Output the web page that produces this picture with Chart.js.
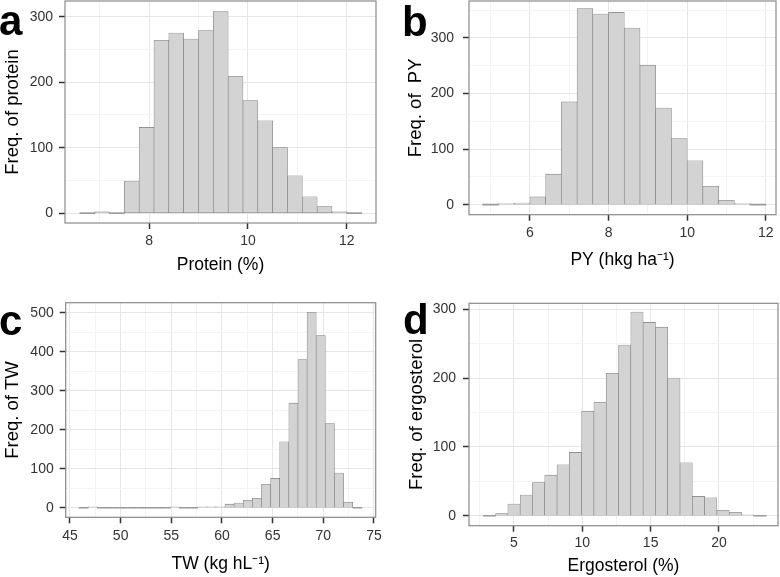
<!DOCTYPE html>
<html>
<head>
<meta charset="utf-8">
<script src="https://cdn.jsdelivr.net/npm/chart.js@4.4.1/dist/chart.umd.min.js"></script>
<style>
  body { margin: 0; background: #fff; }
  #wrap { position: relative; width: 780px; height: 577px; overflow: hidden; font-family: 'Liberation Sans', Arial, sans-serif; }
  #wrap canvas { position: absolute; }
  .tag { position: absolute; font-weight: bold; font-size: 42px; line-height: 1; color: #000; }
</style>
</head>
<body>
<div id="wrap">
  <canvas id="panelA" width="390" height="280" style="left:0;top:0"></canvas>
  <canvas id="panelB" width="390" height="280" style="left:390px;top:0"></canvas>
  <canvas id="panelC" width="390" height="297" style="left:0;top:280px"></canvas>
  <canvas id="panelD" width="390" height="297" style="left:390px;top:280px"></canvas>
  <div class="tag" style="left:-1px;top:0">a</div>
  <div class="tag" style="left:402px;top:1px">b</div>
  <div class="tag" style="left:-1px;top:300px">c</div>
  <div class="tag" style="left:403px;top:299px">d</div>
</div>
<script>
// bin centres and counts
const proteinBins = [6.75, 7.05, 7.35, 7.65, 7.95, 8.25, 8.55, 8.85, 9.15, 9.45, 9.75, 10.05, 10.35, 10.65, 10.95, 11.25, 11.55, 11.85, 12.15];
const proteinFreq = [0, 2, 0, 49, 131, 264, 275, 266, 279, 308, 209, 172, 141, 100, 57, 25, 10, 2, 0];
const proteinTicksX = [8, 10, 12];
const proteinMinorX = [7, 9, 11];
const proteinTicksY = [0, 100, 200, 300];
const proteinMinorY = [50, 150, 250];

const pyBins = [5.0, 5.4, 5.8, 6.2, 6.6, 7.0, 7.4, 7.8, 8.2, 8.6, 9.0, 9.4, 9.8, 10.2, 10.6, 11.0, 11.4, 11.8];
const pyFreq = [0, 1, 3, 14, 55, 185, 353, 343, 346, 318, 251, 174, 119, 79, 33, 8, 1, 0];
const pyTicksX = [6, 8, 10, 12];
const pyMinorX = [5, 7, 9, 11];
const pyTicksY = [0, 100, 200, 300];
const pyMinorY = [50, 150, 250, 350];

const twBins = [46.35, 47.25, 48.15, 49.05, 49.95, 50.85, 51.75, 52.65, 53.55, 54.45, 55.35, 56.25, 57.15, 58.05, 58.95, 59.85,
  60.75, 61.65, 62.55, 63.45, 64.35, 65.25, 66.15, 67.05, 67.95, 68.85, 69.75, 70.65, 71.55, 72.45, 73.35];
const twFreq = [0, 1, 0, 0, 0, 0, 0, 0, 0, 0, 1, 0, 0, 1, 1, 1,
  9, 12, 19, 24, 60, 75, 169, 268, 380, 501, 441, 216, 89, 14, 0];
const twTicksX = [45, 50, 55, 60, 65, 70, 75];
const twMinorX = [47.5, 52.5, 57.5, 62.5, 67.5, 72.5];
const twTicksY = [0, 100, 200, 300, 400, 500];
const twMinorY = [50, 150, 250, 350, 450];

const ergoBins = [3.2, 4.1, 5.0, 5.9, 6.8, 7.7, 8.6, 9.5, 10.4, 11.3, 12.2, 13.1, 14.0, 14.9, 15.8, 16.7, 17.6, 18.5, 19.4, 20.3, 21.2, 22.1, 23.0];
const ergoFreq = [0, 3, 17, 30, 48, 59, 74, 92, 152, 165, 207, 248, 296, 281, 274, 200, 77, 28, 26, 8, 5, 1, 0];
const ergoTicksX = [5, 10, 15, 20];
const ergoMinorX = [2.5, 7.5, 12.5, 17.5, 22.5];
const ergoTicksY = [0, 100, 200, 300];
const ergoMinorY = [50, 150, 250];

const fontFamily = "'Liberation Sans', Arial, sans-serif";

// grey frame round the plotting area (ggplot theme_bw)
const panelBorder = {
  id: 'panelBorder',
  afterDatasetsDraw(chart) {
    const { ctx, chartArea: a } = chart;
    ctx.save();
    ctx.strokeStyle = '#8a8a8a';
    ctx.lineWidth = 1.2;
    ctx.strokeRect(a.left, a.top, a.right - a.left, a.bottom - a.top);
    ctx.restore();
  }
};

function histogram(id, s) {
  const canvas = document.getElementById(id);
  const W = canvas.width, H = canvas.height;
  const area = s.area;
  const ticksX = s.ticksX.concat(s.minorX).sort((p, q) => p - q);
  const ticksY = s.ticksY.concat(s.minorY).sort((p, q) => p - q);

  const gridColor = majors => ctx => majors.includes(ctx.tick.value) ? '#e6e6e6' : '#f4f4f4';
  const tickColor = majors => ctx => majors.includes(ctx.tick.value) ? '#333' : 'rgba(0,0,0,0)';

  return new Chart(canvas, {
    type: 'bar',
    data: {
      datasets: [{
        data: s.bins.map((b, i) => ({ x: b, y: s.freq[i] })),
        // empty bins show up as a thin grey line on the baseline
        backgroundColor: ctx => ctx.raw && ctx.raw.y === 0 ? '#9a9a9a' : '#d3d3d3',
        borderColor: '#7d7d7d',
        borderWidth: ctx => ctx.raw && ctx.raw.y === 0 ? 0 : 0.6,
        borderSkipped: false,
        minBarLength: 1,
        barPercentage: 1,
        categoryPercentage: 1
      }]
    },
    options: {
      responsive: false,
      animation: false,
      layout: { padding: { left: 0, top: area.top, right: W - area.right, bottom: 0 } },
      plugins: { legend: { display: false }, tooltip: { enabled: false } },
      scales: {
        x: {
          type: 'linear',
          min: s.rangeX[0],
          max: s.rangeX[1],
          offset: false,
          border: { display: false },
          grid: { offset: false, color: gridColor(s.ticksX), tickColor: tickColor(s.ticksX), tickLength: 6, tickWidth: 1.5 },
          ticks: {
            autoSkip: false, maxRotation: 0, padding: s.padX, color: '#333',
            font: { family: fontFamily, size: 14 },
            callback: v => s.ticksX.includes(v) ? String(v) : ''
          },
          title: { display: true, text: s.titleX, color: '#000', font: { family: fontFamily, size: 17.5 }, padding: { top: 0, bottom: s.titleXPad } },
          afterBuildTicks: sc => { sc.ticks = ticksX.map(v => ({ value: v })); },
          afterFit: sc => { sc.height = H - area.bottom; sc.paddingLeft = 0; sc.paddingRight = 0; }
        },
        y: {
          min: s.rangeY[0],
          max: s.rangeY[1],
          border: { display: false },
          grid: { color: gridColor(s.ticksY), tickColor: tickColor(s.ticksY), tickLength: 6, tickWidth: 1.5 },
          ticks: {
            padding: s.padY, color: '#333',
            font: { family: fontFamily, size: 14 },
            callback: v => s.ticksY.includes(v) ? String(v) : ''
          },
          title: { display: true, text: s.titleY, color: '#000', font: { family: fontFamily, size: 18.5 }, padding: { top: s.titleYPad, bottom: 0 } },
          afterBuildTicks: sc => { sc.ticks = ticksY.map(v => ({ value: v })); },
          afterFit: sc => { sc.width = area.left; sc.paddingTop = 0; sc.paddingBottom = 0; }
        }
      }
    },
    plugins: [panelBorder]
  });
}

histogram('panelA', {
  bins: proteinBins, freq: proteinFreq,
  ticksX: proteinTicksX, minorX: proteinMinorX, ticksY: proteinTicksY, minorY: proteinMinorY,
  rangeX: [6.3, 12.59], rangeY: [-15, 324],
  area: { left: 65, right: 376, top: 1, bottom: 223 },
  padX: 3.6, padY: 6, titleXPad: 4.5, titleYPad: 2.2,
  titleX: 'Protein (%)', titleY: 'Freq. of protein'
});

histogram('panelB', {
  bins: pyBins, freq: pyFreq,
  ticksX: pyTicksX, minorX: pyMinorX, ticksY: pyTicksY, minorY: pyMinorY,
  rangeX: [4.45, 12.26], rangeY: [-18, 366.5],
  area: { left: 79, right: 386, top: 1, bottom: 214.7 },
  padX: 4.4, padY: 9, titleXPad: 9.5, titleYPad: 14.4,
  titleX: 'PY (hkg ha\u207B\u00B9)', titleY: 'Freq. of  PY'
});

histogram('panelC', {
  bins: twBins, freq: twFreq,
  ticksX: twTicksX, minorX: twMinorX, ticksY: twTicksY, minorY: twMinorY,
  rangeX: [44.58, 75.17], rangeY: [-24.6, 525.6],
  area: { left: 65.7, right: 375.7, top: 22.7, bottom: 237.3 },
  padX: 4.1, padY: 6, titleXPad: 2.5, titleYPad: 2.2,
  titleX: 'TW (kg hL\u207B\u00B9)', titleY: 'Freq. of TW'
});

histogram('panelD', {
  bins: ergoBins, freq: ergoFreq,
  ticksX: ergoTicksX, minorX: ergoMinorX, ticksY: ergoTicksY, minorY: ergoMinorY,
  rangeX: [1.707, 24.32], rangeY: [-14.5, 308.7],
  area: { left: 79, right: 388, top: 23.3, bottom: 245.7 },
  padX: 2.9, padY: 7, titleXPad: 0, titleYPad: 15.6,
  titleX: 'Ergosterol (%)', titleY: 'Freq. of ergosterol'
});
</script>
</body>
</html>
